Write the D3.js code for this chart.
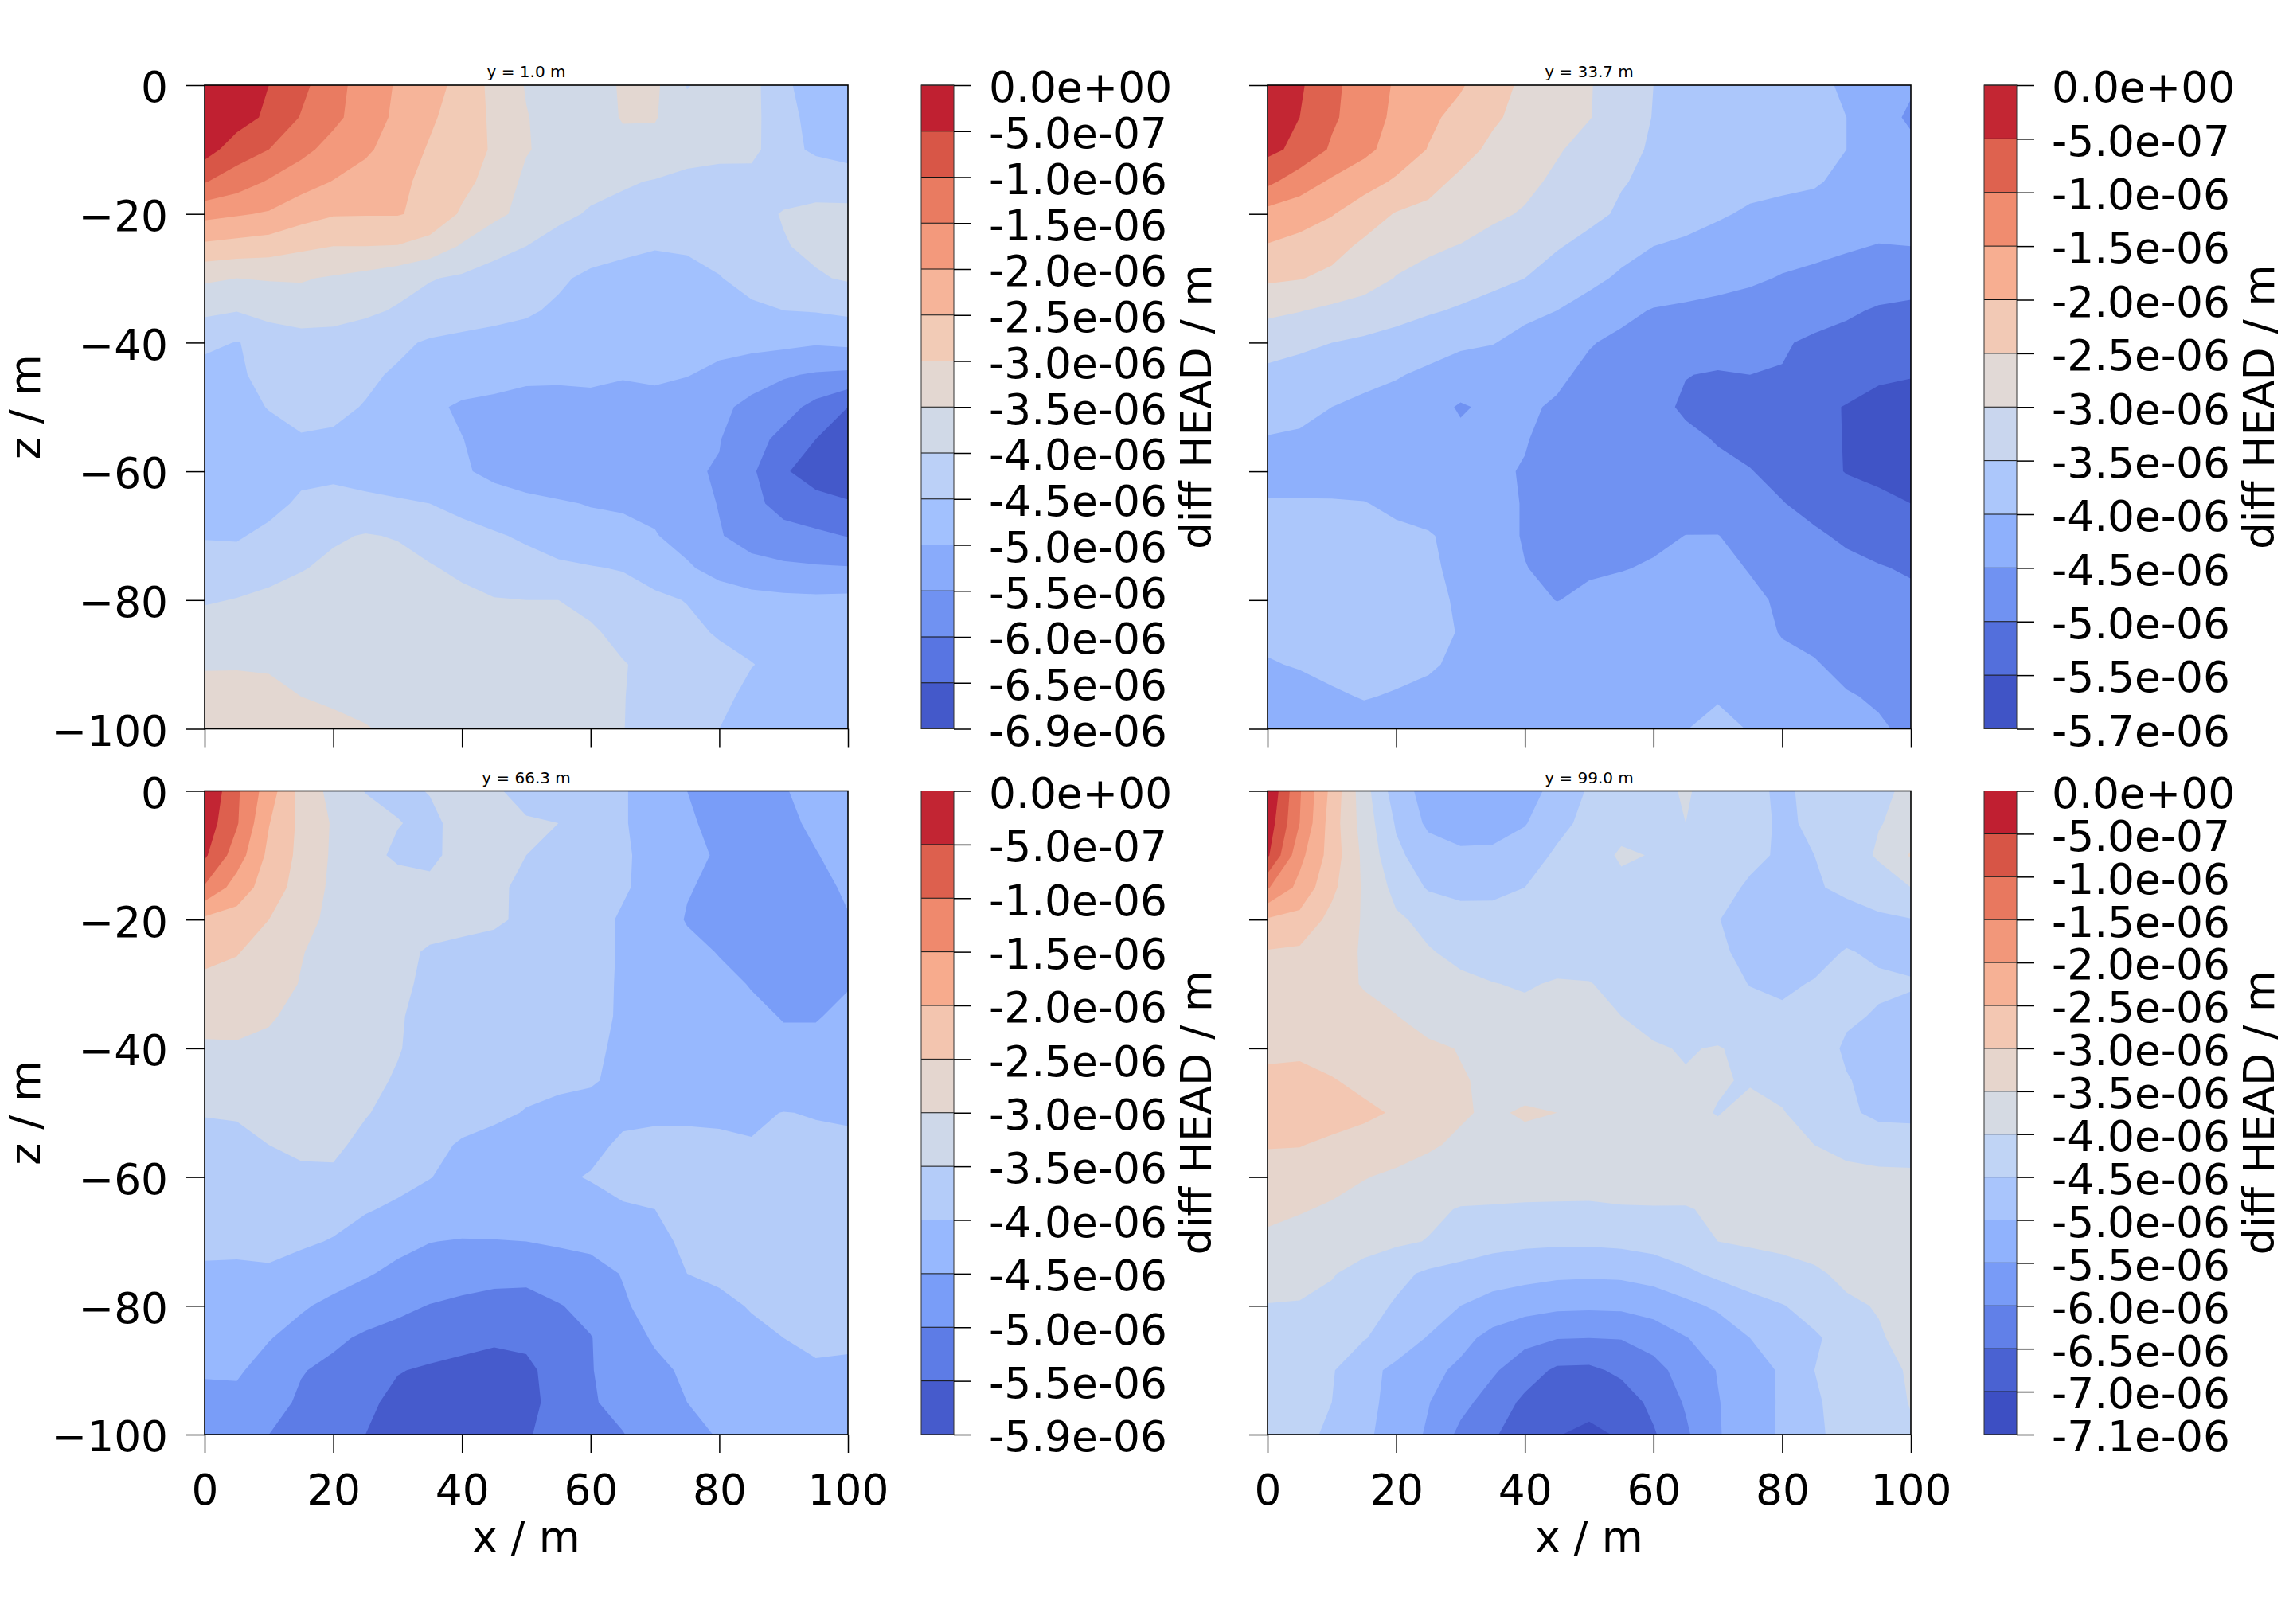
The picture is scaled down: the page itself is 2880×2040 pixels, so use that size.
<!DOCTYPE html>
<html>
<head>
<meta charset="utf-8">
<title>diff HEAD</title>
<script src="https://cdn.jsdelivr.net/npm/d3@7"></script>
<style>
  body { margin: 0; background: #fff; }
  text { font-family: "DejaVu Sans", sans-serif; fill: #000; }
</style>
</head>
<body>
<svg id="chart" width="2880" height="2040"></svg>
<script>
// sample points of the contoured field, metres
const xCells = [0, 5, 10, 15, 20, 25, 30, 35, 40, 45, 50, 55, 60, 65, 70, 75, 80, 85, 90, 95, 100];
const zCells = [0, -5, -10, -15, -20, -25, -30, -35, -40, -45, -50, -55, -60, -65, -70, -75, -80, -85, -90, -95, -100];

const xTicks = [0, 20, 40, 60, 80, 100];
const zTicks = [0, -20, -40, -60, -80, -100];

const titles = ["y = 1.0 m", "y = 33.7 m", "y = 66.3 m", "y = 99.0 m"];

// contour levels in 1e-6 m, top of the colorbar first
const levels1 = [0, -0.5, -1, -1.5, -2, -2.5, -3, -3.5, -4, -4.5, -5, -5.5, -6, -6.5, -6.9];
const levels2 = [0, -0.5, -1, -1.5, -2, -2.5, -3, -3.5, -4, -4.5, -5, -5.5, -5.7];
const levels3 = [0, -0.5, -1, -1.5, -2, -2.5, -3, -3.5, -4, -4.5, -5, -5.5, -5.9];
const levels4 = [0, -0.5, -1, -1.5, -2, -2.5, -3, -3.5, -4, -4.5, -5, -5.5, -6, -6.5, -7, -7.1];

const labels1 = ["0.0e+00", "-5.0e-07", "-1.0e-06", "-1.5e-06", "-2.0e-06", "-2.5e-06", "-3.0e-06", "-3.5e-06", "-4.0e-06", "-4.5e-06", "-5.0e-06", "-5.5e-06", "-6.0e-06", "-6.5e-06", "-6.9e-06"];
const labels2 = ["0.0e+00", "-5.0e-07", "-1.0e-06", "-1.5e-06", "-2.0e-06", "-2.5e-06", "-3.0e-06", "-3.5e-06", "-4.0e-06", "-4.5e-06", "-5.0e-06", "-5.5e-06", "-5.7e-06"];
const labels3 = ["0.0e+00", "-5.0e-07", "-1.0e-06", "-1.5e-06", "-2.0e-06", "-2.5e-06", "-3.0e-06", "-3.5e-06", "-4.0e-06", "-4.5e-06", "-5.0e-06", "-5.5e-06", "-5.9e-06"];
const labels4 = ["0.0e+00", "-5.0e-07", "-1.0e-06", "-1.5e-06", "-2.0e-06", "-2.5e-06", "-3.0e-06", "-3.5e-06", "-4.0e-06", "-4.5e-06", "-5.0e-06", "-5.5e-06", "-6.0e-06", "-6.5e-06", "-7.0e-06", "-7.1e-06"];

// coolwarm stops
const coolwarm = ["#3b4cc0", "#5a78e4", "#7b9ff9", "#9ebeff", "#c0d4f5", "#dddcdc", "#f2cbb7", "#f7ac8e", "#ee8468", "#d65244", "#b40426"];

// diff HEAD, one row per z, 1e-6 m
const field1 = [
  [0,-0.25,-0.5,-0.87,-1.32,-1.72,-2.05,-2.32,-2.65,-3.15,-3.53,-3.7,-3.7,-3.45,-3.4,-4.03,-3.78,-3.82,-4.44,-4.65,-4.7],
  [-0.1,-0.28,-0.6,-1.03,-1.38,-1.75,-2.1,-2.42,-2.75,-3.08,-3.48,-3.68,-3.7,-3.47,-3.47,-3.8,-3.8,-3.82,-4.4,-4.6,-4.7],
  [-0.28,-0.75,-1,-1.36,-1.68,-1.92,-2.22,-2.55,-2.8,-3.05,-3.47,-3.65,-3.7,-3.62,-3.65,-3.85,-3.88,-3.85,-4.35,-4.58,-4.65],
  [-0.97,-1.25,-1.55,-1.8,-2.02,-2.2,-2.4,-2.62,-2.85,-3.2,-3.6,-3.75,-3.85,-3.95,-4.03,-4.1,-4.15,-4.2,-4.2,-4.18,-4.3],
  [-1.85,-1.95,-2.05,-2.3,-2.46,-2.47,-2.47,-2.62,-3.07,-3.38,-3.65,-3.88,-4.05,-4.13,-4.2,-4.25,-4.25,-4.15,-3.97,-3.9,-3.85],
  [-2.6,-2.68,-2.75,-2.9,-3,-3,-3.02,-3.2,-3.55,-3.85,-4,-4.2,-4.32,-4.42,-4.48,-4.46,-4.35,-4.2,-4.03,-3.9,-3.85],
  [-3.42,-3.5,-3.47,-3.46,-3.55,-3.65,-3.8,-3.97,-4.07,-4.18,-4.3,-4.44,-4.58,-4.62,-4.63,-4.6,-4.52,-4.35,-4.2,-4.05,-3.95],
  [-3.9,-3.98,-3.8,-3.75,-3.8,-3.9,-4.05,-4.2,-4.3,-4.38,-4.45,-4.56,-4.68,-4.75,-4.78,-4.75,-4.7,-4.58,-4.5,-4.47,-4.4],
  [-4.38,-4.52,-4.35,-4.2,-4.2,-4.3,-4.42,-4.55,-4.6,-4.63,-4.65,-4.75,-4.8,-4.83,-4.85,-4.85,-4.85,-4.85,-4.88,-4.95,-4.9],
  [-4.7,-4.55,-4.4,-4.3,-4.32,-4.43,-4.55,-4.65,-4.75,-4.85,-4.93,-4.93,-4.9,-4.97,-4.9,-4.98,-5.12,-5.3,-5.45,-5.55,-5.6],
  [-4.8,-4.65,-4.48,-4.42,-4.42,-4.52,-4.7,-4.9,-5.07,-5.1,-5.13,-5.15,-5.15,-5.15,-5.2,-5.27,-5.4,-5.62,-5.8,-6.15,-6.5],
  [-4.85,-4.78,-4.65,-4.52,-4.55,-4.65,-4.82,-4.95,-4.99,-5.15,-5.22,-5.25,-5.28,-5.3,-5.35,-5.42,-5.48,-5.8,-6.15,-6.5,-6.75],
  [-4.85,-4.82,-4.72,-4.62,-4.6,-4.7,-4.8,-4.88,-4.95,-5.1,-5.2,-5.25,-5.3,-5.35,-5.4,-5.45,-5.53,-5.92,-6.45,-6.7,-6.85],
  [-4.85,-4.8,-4.65,-4.42,-4.35,-4.38,-4.43,-4.5,-4.65,-4.82,-4.9,-4.96,-5.02,-5.03,-5.12,-5.3,-5.52,-5.85,-6.2,-6.35,-6.45],
  [-4.53,-4.55,-4.38,-4.2,-4.06,-3.97,-4.03,-4.2,-4.32,-4.44,-4.58,-4.72,-4.85,-4.93,-4.97,-5.2,-5.47,-5.68,-5.8,-5.9,-6.02],
  [-4.3,-4.28,-4.15,-4.03,-3.9,-3.8,-3.85,-3.96,-4.1,-4.2,-4.3,-4.42,-4.47,-4.53,-4.72,-4.93,-5.2,-5.35,-5.42,-5.45,-5.47],
  [-4.05,-3.98,-3.9,-3.8,-3.72,-3.7,-3.72,-3.8,-3.88,-3.98,-4,-4,-4.1,-4.28,-4.4,-4.52,-4.7,-4.83,-4.88,-4.9,-4.88],
  [-3.75,-3.72,-3.7,-3.65,-3.6,-3.6,-3.62,-3.68,-3.72,-3.78,-3.82,-3.85,-3.95,-4.1,-4.22,-4.38,-4.55,-4.6,-4.7,-4.75,-4.75],
  [-3.55,-3.54,-3.55,-3.55,-3.55,-3.58,-3.62,-3.66,-3.7,-3.74,-3.78,-3.84,-3.9,-3.98,-4.1,-4.2,-4.35,-4.49,-4.58,-4.62,-4.65],
  [-3.3,-3.32,-3.38,-3.5,-3.55,-3.6,-3.65,-3.7,-3.74,-3.78,-3.83,-3.88,-3.93,-3.99,-4.1,-4.25,-4.42,-4.58,-4.65,-4.7,-4.72],
  [-3.25,-3.27,-3.3,-3.36,-3.42,-3.48,-3.57,-3.65,-3.72,-3.78,-3.84,-3.9,-3.94,-3.99,-4.15,-4.33,-4.5,-4.6,-4.68,-4.72,-4.75]
];

const field2 = [
  [-0.05,-0.43,-0.88,-1.25,-1.55,-1.77,-1.95,-2.3,-2.6,-2.78,-2.97,-3.23,-3.5,-3.6,-3.68,-3.75,-3.83,-3.92,-4.05,-4.2,-4.42],
  [-0.1,-0.5,-0.92,-1.27,-1.6,-1.9,-2.15,-2.43,-2.65,-2.82,-2.98,-3.22,-3.52,-3.62,-3.7,-3.77,-3.84,-3.93,-4,-4.25,-4.6],
  [-0.38,-0.62,-1.07,-1.38,-1.7,-2.02,-2.33,-2.6,-2.75,-2.95,-3.18,-3.38,-3.55,-3.65,-3.72,-3.8,-3.86,-3.93,-4,-4.2,-4.35],
  [-0.88,-1.27,-1.57,-1.8,-2.07,-2.35,-2.6,-2.75,-2.87,-3.1,-3.27,-3.47,-3.6,-3.7,-3.78,-3.85,-3.9,-3.95,-4.12,-4.22,-4.3],
  [-1.68,-1.78,-1.97,-2.28,-2.53,-2.62,-2.75,-2.9,-3.05,-3.2,-3.37,-3.57,-3.67,-3.78,-3.94,-4.07,-4.13,-4.18,-4.24,-4.28,-4.38],
  [-2.03,-2.16,-2.35,-2.58,-2.82,-2.92,-3.02,-3.2,-3.35,-3.46,-3.65,-3.83,-4,-4.1,-4.2,-4.27,-4.33,-4.38,-4.45,-4.52,-4.5],
  [-2.42,-2.48,-2.6,-2.78,-3.02,-3.15,-3.28,-3.38,-3.5,-3.72,-3.87,-4.08,-4.17,-4.27,-4.35,-4.43,-4.53,-4.6,-4.68,-4.75,-4.8],
  [-2.9,-2.98,-3.1,-3.2,-3.32,-3.45,-3.55,-3.67,-3.88,-4,-4.2,-4.38,-4.53,-4.58,-4.63,-4.68,-4.75,-4.83,-4.93,-5.05,-5.1],
  [-3.28,-3.38,-3.5,-3.58,-3.68,-3.78,-3.93,-3.98,-4.15,-4.3,-4.47,-4.6,-4.68,-4.75,-4.82,-4.88,-4.96,-5.07,-5.15,-5.25,-5.3],
  [-3.62,-3.72,-3.8,-3.87,-3.96,-4.1,-4.2,-4.27,-4.34,-4.42,-4.6,-4.72,-4.83,-4.99,-5.03,-5,-5.02,-5.15,-5.3,-5.45,-5.48],
  [-3.78,-3.88,-4,-4.1,-4.2,-4.3,-4.55,-4.4,-4.44,-4.55,-4.68,-4.78,-4.9,-5.05,-5.12,-5.22,-5.3,-5.4,-5.52,-5.6,-5.65],
  [-4.03,-4.06,-4.1,-4.18,-4.25,-4.3,-4.4,-4.44,-4.48,-4.62,-4.72,-4.8,-4.87,-4.93,-5.02,-5.15,-5.27,-5.38,-5.52,-5.62,-5.65],
  [-4.15,-4.2,-4.22,-4.25,-4.3,-4.35,-4.4,-4.45,-4.52,-4.62,-4.7,-4.77,-4.82,-4.88,-4.93,-4.98,-5.15,-5.33,-5.52,-5.58,-5.6],
  [-3.97,-3.96,-3.96,-3.98,-4.1,-4.2,-4.3,-4.4,-4.52,-4.6,-4.65,-4.7,-4.73,-4.68,-4.75,-4.85,-4.98,-5.15,-5.3,-5.42,-5.5],
  [-3.85,-3.85,-3.85,-3.87,-3.9,-3.96,-4.15,-4.35,-4.53,-4.6,-4.63,-4.62,-4.58,-4.495,-4.49,-4.65,-4.8,-4.93,-5.08,-5.2,-5.3],
  [-3.8,-3.78,-3.78,-3.82,-3.85,-3.93,-4.1,-4.3,-4.49,-4.58,-4.55,-4.52,-4.46,-4.38,-4.4,-4.52,-4.65,-4.77,-4.88,-4.97,-5.05],
  [-3.85,-3.8,-3.8,-3.82,-3.85,-3.9,-4.05,-4.2,-4.38,-4.51,-4.42,-4.35,-4.3,-4.25,-4.3,-4.43,-4.55,-4.68,-4.78,-4.85,-4.9],
  [-3.9,-3.87,-3.85,-3.85,-3.87,-3.9,-4.02,-4.15,-4.22,-4.28,-4.25,-4.25,-4.22,-4.2,-4.28,-4.38,-4.52,-4.57,-4.65,-4.72,-4.78],
  [-4.03,-3.97,-3.9,-3.88,-3.9,-3.95,-4.08,-4.15,-4.22,-4.27,-4.28,-4.27,-4.25,-4.2,-4.25,-4.32,-4.42,-4.48,-4.57,-4.65,-4.72],
  [-4.2,-4.15,-4.05,-3.98,-4.03,-4.1,-4.15,-4.18,-4.22,-4.25,-4.27,-4.25,-4.2,-4.1,-4.03,-4.15,-4.33,-4.42,-4.48,-4.53,-4.65],
  [-4.3,-4.25,-4.2,-4.15,-4.15,-4.18,-4.2,-4.22,-4.25,-4.27,-4.25,-4.2,-4.12,-4.01,-3.9,-4.02,-4.15,-4.28,-4.38,-4.47,-4.55]
];

const field3 = [
  [0,-0.92,-1.75,-2.68,-3.15,-3.52,-3.6,-3.48,-3.4,-3.46,-3.6,-3.62,-3.75,-3.96,-4.2,-4.5,-4.58,-4.6,-4.52,-4.4,-4.3],
  [-0.2,-0.95,-1.98,-2.62,-3.05,-3.28,-3.48,-3.6,-3.35,-3.38,-3.47,-3.5,-3.78,-3.96,-4.2,-4.46,-4.58,-4.62,-4.6,-4.42,-4.3],
  [-0.42,-1.25,-2.12,-2.63,-3.07,-3.35,-3.58,-3.55,-3.42,-3.45,-3.5,-3.6,-3.78,-3.95,-4.12,-4.38,-4.55,-4.62,-4.62,-4.52,-4.35],
  [-1.05,-1.72,-2.25,-2.7,-3.1,-3.25,-3.3,-3.45,-3.4,-3.43,-3.58,-3.68,-3.8,-3.95,-4.15,-4.47,-4.6,-4.68,-4.68,-4.6,-4.45],
  [-2.1,-2.2,-2.5,-2.87,-3.1,-3.2,-3.28,-3.32,-3.36,-3.42,-3.6,-3.72,-3.85,-4.05,-4.25,-4.53,-4.62,-4.68,-4.7,-4.65,-4.52],
  [-2.38,-2.47,-2.72,-2.98,-3.15,-3.25,-3.38,-3.55,-3.62,-3.68,-3.72,-3.8,-3.9,-4.03,-4.2,-4.38,-4.52,-4.62,-4.7,-4.72,-4.62],
  [-2.6,-2.68,-2.83,-3.02,-3.13,-3.25,-3.42,-3.58,-3.65,-3.7,-3.78,-3.85,-3.92,-4.03,-4.15,-4.27,-4.4,-4.52,-4.62,-4.6,-4.52],
  [-2.8,-2.85,-2.95,-3.13,-3.23,-3.32,-3.47,-3.6,-3.68,-3.75,-3.82,-3.88,-3.93,-4.03,-4.12,-4.22,-4.32,-4.42,-4.52,-4.52,-4.43],
  [-3.08,-3.05,-3.1,-3.2,-3.28,-3.38,-3.48,-3.62,-3.72,-3.8,-3.86,-3.92,-3.97,-4.03,-4.1,-4.17,-4.25,-4.33,-4.42,-4.42,-4.38],
  [-3.33,-3.3,-3.28,-3.3,-3.35,-3.42,-3.53,-3.65,-3.75,-3.83,-3.9,-3.96,-3.98,-4.05,-4.1,-4.15,-4.2,-4.25,-4.3,-4.3,-4.3],
  [-3.48,-3.47,-3.4,-3.4,-3.42,-3.48,-3.6,-3.72,-3.82,-3.92,-4.02,-4.05,-4.07,-4.07,-4.07,-4.07,-4.07,-4.06,-3.99,-4.02,-4.05],
  [-3.62,-3.58,-3.5,-3.45,-3.44,-3.58,-3.72,-3.87,-4.05,-4.13,-4.15,-4.13,-4.08,-3.95,-3.9,-3.9,-3.93,-3.98,-3.93,-3.93,-3.93],
  [-3.7,-3.68,-3.6,-3.55,-3.55,-3.7,-3.85,-3.99,-4.1,-4.13,-4.1,-4.05,-3.98,-3.85,-3.85,-3.85,-3.85,-3.87,-3.85,-3.85,-3.85],
  [-3.72,-3.72,-3.72,-3.75,-3.83,-3.96,-4.08,-4.15,-4.2,-4.22,-4.2,-4.17,-4.12,-4.05,-4,-3.92,-3.85,-3.82,-3.8,-3.8,-3.82],
  [-3.88,-3.9,-3.9,-3.93,-4.03,-4.22,-4.38,-4.49,-4.53,-4.52,-4.5,-4.45,-4.4,-4.25,-4.07,-3.95,-3.9,-3.85,-3.83,-3.82,-3.83],
  [-4.08,-4.08,-4.05,-4.2,-4.32,-4.46,-4.6,-4.68,-4.75,-4.82,-4.85,-4.72,-4.65,-4.48,-4.25,-4,-3.92,-3.87,-3.85,-3.83,-3.83],
  [-4.22,-4.25,-4.32,-4.45,-4.6,-4.72,-4.87,-5.02,-5.12,-5.2,-5.2,-5.03,-4.85,-4.55,-4.35,-4.2,-4.1,-3.97,-3.9,-3.88,-3.88],
  [-4.33,-4.38,-4.48,-4.65,-4.9,-5.08,-5.2,-5.3,-5.38,-5.45,-5.42,-5.25,-5.02,-4.7,-4.45,-4.3,-4.22,-4.1,-4,-3.95,-3.93],
  [-4.47,-4.45,-4.65,-4.97,-5.12,-5.3,-5.48,-5.55,-5.6,-5.62,-5.58,-5.35,-5.02,-4.82,-4.6,-4.43,-4.3,-4.2,-4.12,-4.03,-4.07],
  [-4.58,-4.6,-4.8,-5.08,-5.25,-5.42,-5.6,-5.68,-5.72,-5.72,-5.6,-5.38,-5.05,-4.85,-4.68,-4.5,-4.42,-4.32,-4.25,-4.2,-4.17],
  [-4.68,-4.8,-5,-5.13,-5.33,-5.5,-5.66,-5.75,-5.78,-5.75,-5.53,-5.38,-5.05,-5.02,-4.75,-4.62,-4.47,-4.38,-4.3,-4.25,-4.22]
];

const field4 = [
  [0,-1.45,-2.65,-3.8,-4.75,-5.2,-5.35,-5.4,-5.25,-4.8,-4.45,-4.3,-4.15,-3.95,-4.2,-4.35,-4.6,-4.35,-4.25,-4.1,-3.9],
  [-0.2,-1.5,-2.75,-3.72,-4.55,-5.1,-5.2,-5.2,-5.03,-4.65,-4.35,-4.2,-4.15,-4,-4.18,-4.32,-4.58,-4.42,-4.3,-4.02,-3.88],
  [-0.42,-1.85,-2.72,-3.62,-4.4,-4.75,-4.92,-4.9,-4.75,-4.42,-4.28,-3.92,-4.03,-4.12,-4.22,-4.4,-4.56,-4.5,-4.25,-3.94,-3.45],
  [-1.45,-2.15,-2.88,-3.57,-4.15,-4.55,-4.68,-4.65,-4.5,-4.3,-4.2,-4.15,-4.1,-4.2,-4.35,-4.56,-4.62,-4.54,-4.42,-4.25,-4],
  [-2.55,-2.65,-3.15,-3.55,-3.93,-4.12,-4.25,-4.28,-4.28,-4.25,-4.25,-4.27,-4.33,-4.42,-4.49,-4.62,-4.72,-4.7,-4.65,-4.58,-4.52],
  [-3.03,-3.08,-3.3,-3.55,-3.73,-3.97,-4.1,-4.15,-4.15,-4.15,-4.2,-4.27,-4.32,-4.38,-4.45,-4.58,-4.65,-4.6,-4.48,-4.55,-4.6],
  [-3.15,-3.22,-3.4,-3.52,-3.65,-3.8,-3.92,-3.99,-4.03,-3.97,-3.98,-4.13,-4.22,-4.3,-4.38,-4.51,-4.55,-4.48,-4.42,-4.45,-4.47],
  [-3.2,-3.25,-3.32,-3.42,-3.49,-3.68,-3.82,-3.9,-3.92,-3.92,-3.95,-4,-4.13,-4.22,-4.3,-4.38,-4.45,-4.42,-4.45,-4.53,-4.6],
  [-3.1,-3.1,-3.2,-3.27,-3.3,-3.42,-3.52,-3.7,-3.8,-3.85,-3.88,-3.92,-3.96,-4.03,-3.97,-4.13,-4.25,-4.32,-4.55,-4.62,-4.65],
  [-2.9,-2.85,-2.97,-3.12,-3.22,-3.32,-3.47,-3.57,-3.7,-3.78,-3.83,-3.88,-3.92,-3.97,-3.98,-4.02,-4.1,-4.25,-4.48,-4.6,-4.62],
  [-2.78,-2.72,-2.78,-2.9,-3.05,-3.2,-3.45,-3.57,-3.44,-3.5,-3.75,-3.85,-3.9,-3.95,-4.01,-3.93,-3.98,-4.15,-4.42,-4.6,-4.6],
  [-2.97,-2.98,-3.1,-3.2,-3.3,-3.45,-3.57,-3.62,-3.65,-3.7,-3.77,-3.82,-3.87,-3.9,-3.92,-3.93,-3.95,-4,-4.12,-4.25,-4.3],
  [-3.2,-3.25,-3.37,-3.48,-3.58,-3.65,-3.7,-3.72,-3.75,-3.78,-3.8,-3.82,-3.84,-3.85,-3.85,-3.85,-3.87,-3.88,-3.88,-3.88,-3.88],
  [-3.4,-3.47,-3.55,-3.68,-3.78,-3.9,-4.03,-4.05,-4.07,-4.07,-4.07,-4.03,-4.02,-4.02,-3.95,-3.9,-3.87,-3.85,-3.83,-3.82,-3.8],
  [-3.58,-3.65,-3.72,-3.82,-3.92,-4.02,-4.2,-4.35,-4.4,-4.42,-4.42,-4.38,-4.3,-4.18,-4,-3.94,-3.9,-3.87,-3.83,-3.82,-3.8],
  [-3.78,-3.85,-3.97,-4.17,-4.38,-4.58,-4.68,-4.75,-4.83,-4.9,-4.92,-4.9,-4.8,-4.6,-4.4,-4.25,-4.15,-4.05,-3.93,-3.85,-3.82],
  [-4.02,-4.03,-4.12,-4.32,-4.55,-4.72,-5,-5.2,-5.32,-5.4,-5.42,-5.4,-5.3,-5.12,-4.92,-4.68,-4.52,-4.35,-4.05,-3.98,-3.87],
  [-4.12,-4.17,-4.27,-4.47,-4.75,-5.03,-5.35,-5.65,-5.85,-5.98,-6,-5.98,-5.78,-5.52,-5.3,-5,-4.75,-4.55,-4.35,-4.03,-3.9],
  [-4.22,-4.3,-4.46,-4.86,-5.1,-5.36,-5.6,-5.93,-6.28,-6.58,-6.6,-6.4,-6.18,-5.78,-5.48,-5.25,-4.93,-4.5,-4.35,-4.15,-3.95],
  [-4.32,-4.38,-4.5,-4.85,-5.17,-5.48,-5.85,-6.22,-6.6,-6.8,-6.85,-6.75,-6.38,-5.95,-5.52,-5.27,-4.93,-4.55,-4.35,-4.18,-3.98],
  [-4.3,-4.38,-4.58,-4.9,-5.22,-5.56,-6.12,-6.45,-6.72,-6.98,-7.1,-6.95,-6.55,-6.08,-5.53,-5.28,-4.92,-4.58,-4.35,-4.2,-4.05]
];

// layout
const plotW = 808, plotH = 808.5;
const barW = 41, barGap = 92;
const tickLen = 23;
const fsTick = 53.33, fsBar = 53.33, fsLabel = 53.33, fsTitle = 20;

const svg = d3.select("#chart");
const coolwarmScale = d3.scaleLinear()
  .domain(coolwarm.map((_, i) => i / (coolwarm.length - 1)))
  .range(coolwarm);

function drawPanel(cfg) {
  const g = svg.append("g").attr("transform", `translate(${cfg.left},${cfg.top})`);
  const x = d3.scaleLinear().domain([0, 100]).range([0, plotW]);
  const z = d3.scaleLinear().domain([0, -100]).range([0, plotH]);

  const vmin = d3.min(cfg.levels), vmax = d3.max(cfg.levels);
  const bandColor = (k) => {
    // same rule as contourf: colour of the layer midpoint
    const mid = (cfg.levels[k] + cfg.levels[k + 1]) / 2;
    return coolwarmScale((mid - vmin) / (vmax - vmin));
  };

  const clipId = "clip" + cfg.index;
  g.append("clipPath").attr("id", clipId).append("rect").attr("width", plotW).attr("height", plotH);

  const nBands = cfg.levels.length - 1;
  const plot = g.append("g").attr("clip-path", `url(#${clipId})`);
  plot.append("rect").attr("width", plotW).attr("height", plotH).attr("fill", bandColor(nBands - 1));

  // grid index -> metres; d3.contours puts samples on half integers
  const stepX = x(xCells[1]) - x(xCells[0]), stepZ = z(zCells[1]) - z(zCells[0]);
  const path = d3.geoPath(d3.geoTransform({
    point(px, py) {
      this.stream.point(x(xCells[0]) + (px - 0.5) * stepX, z(zCells[0]) + (py - 0.5) * stepZ);
    }
  }));

  const contours = d3.contours()
    .size([xCells.length, zCells.length])
    .smooth(true);
  const flat = cfg.field.flat();
  // paint from the coldest band upward so each one covers the last
  for (let k = nBands - 2; k >= 0; k--) {
    const shape = contours.contour(flat, cfg.levels[k + 1]);
    plot.append("path").attr("d", path(shape)).attr("fill", bandColor(k));
  }

  g.append("rect").attr("width", plotW).attr("height", plotH)
    .attr("fill", "none").attr("stroke", "#000").attr("stroke-width", 1.6);

  // axes
  const xAxis = d3.axisBottom(x).tickValues(xTicks).tickSize(tickLen).tickSizeOuter(0).tickPadding(27);
  if (!cfg.showX) xAxis.tickFormat("");
  const zAxis = d3.axisLeft(z).tickValues(zTicks).tickSize(tickLen).tickSizeOuter(0).tickPadding(23);
  if (!cfg.showZ) zAxis.tickFormat("");

  const gx = g.append("g").attr("transform", `translate(0,${plotH})`).call(xAxis);
  const gz = g.append("g").call(zAxis);
  [gx, gz].forEach((a) => {
    a.select(".domain").remove();
    a.selectAll("line").attr("stroke", "#000").attr("stroke-width", 1.5);
    a.selectAll("text").attr("font-size", fsTick).attr("font-family", "DejaVu Sans").attr("fill", "#000");
  });
  gz.selectAll("text").attr("dy", "0.39em");

  g.append("text").attr("x", plotW / 2).attr("y", -10).attr("text-anchor", "middle")
    .attr("font-size", fsTitle).text(cfg.title);

  if (cfg.showX) {
    g.append("text").attr("x", plotW / 2).attr("y", plotH + 147).attr("text-anchor", "middle")
      .attr("font-size", fsLabel).text("x / m");
  }
  if (cfg.showZ) {
    g.append("text").attr("transform", `translate(-207,${plotH / 2}) rotate(-90)`).attr("text-anchor", "middle")
      .attr("font-size", fsLabel).text("z / m");
  }

  // colorbar, equal height bands
  const barX = plotW + barGap;
  const bar = g.append("g").attr("transform", `translate(${barX},0)`);
  const barScale = d3.scalePoint().domain(cfg.labels).range([0, plotH]);
  bar.selectAll("rect.band").data(d3.range(nBands)).join("rect")
    .attr("class", "band")
    .attr("width", barW)
    .attr("y", (k) => barScale(cfg.labels[k]))
    .attr("height", (k) => barScale(cfg.labels[k + 1]) - barScale(cfg.labels[k]))
    .attr("fill", bandColor);
  bar.selectAll("line.div").data(cfg.labels).join("line")
    .attr("class", "div").attr("x2", barW)
    .attr("y1", (d) => barScale(d)).attr("y2", (d) => barScale(d))
    .attr("stroke", "#111").attr("stroke-width", 1);
  bar.append("rect").attr("width", barW).attr("height", plotH)
    .attr("fill", "none").attr("stroke", "#333").attr("stroke-width", 1);

  const barAxis = d3.axisRight(barScale).tickSize(22).tickSizeOuter(0).tickPadding(22);
  const gb = bar.append("g").attr("transform", `translate(${barW},0)`).call(barAxis);
  gb.select(".domain").remove();
  gb.selectAll("line").attr("stroke", "#000").attr("stroke-width", 1.5);
  gb.selectAll("text").attr("font-size", fsBar).attr("font-family", "DejaVu Sans").attr("fill", "#000").attr("dy", "0.39em");

  bar.append("text").attr("transform", `translate(${barW + 323},${plotH / 2}) rotate(-90)`)
    .attr("text-anchor", "middle").attr("font-size", fsBar).text("diff HEAD / m");
}

const panels = [
  { index: 1, left: 257, top: 107, field: field1, levels: levels1, labels: labels1, title: titles[0], showX: false, showZ: true },
  { index: 2, left: 1592, top: 107, field: field2, levels: levels2, labels: labels2, title: titles[1], showX: false, showZ: false },
  { index: 3, left: 257, top: 993.5, field: field3, levels: levels3, labels: labels3, title: titles[2], showX: true, showZ: true },
  { index: 4, left: 1592, top: 993.5, field: field4, levels: levels4, labels: labels4, title: titles[3], showX: true, showZ: false }
];
panels.forEach(drawPanel);
</script>
</body>
</html>
